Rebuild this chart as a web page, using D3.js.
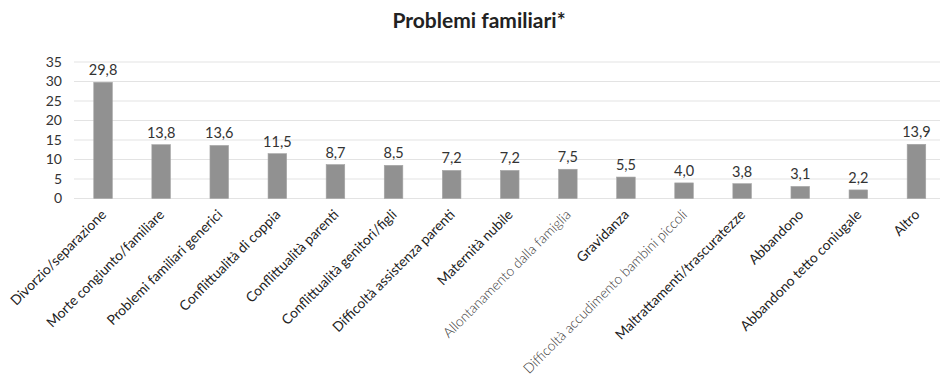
<!DOCTYPE html>
<html><head><meta charset="utf-8">
<script src="https://cdn.jsdelivr.net/npm/d3@7"></script>
<style>
body{margin:0;background:#fff;}
svg{display:block;font-family:Lato,"Open Sans",sans-serif;}
</style></head>
<body><svg id="c" width="940" height="379"></svg>
<script>
const categories = ["Divorzio/separazione","Morte congiunto/familiare","Problemi familiari generici","Conflittualità di coppia","Conflittualità parenti","Conflittualità genitori/figli","Difficoltà assistenza parenti","Maternità nubile","Allontanamento dalla famiglia","Gravidanza","Difficoltà accudimento bambini piccoli","Maltrattamenti/trascuratezze","Abbandono","Abbandono tetto coniugale","Altro"];
const values = [29.8,13.8,13.6,11.5,8.7,8.5,7.2,7.2,7.5,5.5,4.0,3.8,3.1,2.2,13.9];
const yTicks = [0,5,10,15,20,25,30,35];
const lightLabels = ["Allontanamento dalla famiglia","Difficoltà accudimento bambini piccoli"];
const title = "Problemi familiari*";

const svg = d3.select("#c");
const x = d3.scaleBand().domain(categories).range([74, 945.5]).paddingInner(0.68).paddingOuter(0.34);
const y = d3.scaleLinear().domain([0,35]).range([198.5, 62]);
const fmt = v => v.toFixed(1).replace(".", ",");

svg.append("text").attr("x", 479).attr("y", 28).attr("text-anchor","middle")
  .attr("font-size", 21).attr("font-weight", "bold").attr("fill", "#222").text(title);

svg.append("g").selectAll("line").data(yTicks).join("line")
  .attr("x1", 74).attr("x2", 940).attr("y1", d=>y(d)).attr("y2", d=>y(d))
  .attr("stroke", "#e3e3e3").attr("stroke-width", 1.2);

const yAxis = d3.axisLeft(y).tickValues(yTicks).tickSize(0).tickPadding(0);
const gy = svg.append("g").attr("transform","translate(62,0)").call(yAxis);
gy.select(".domain").remove();
gy.selectAll("text").attr("font-size", 14).attr("fill", "#333").attr("font-family","Lato,'Open Sans',sans-serif");

svg.append("g").selectAll("rect").data(values).join("rect")
  .attr("x", (d,i)=>x(categories[i])).attr("width", x.bandwidth())
  .attr("y", d=>y(d)).attr("height", d=>y(0)-y(d))
  .attr("fill", "#919191").attr("stroke","#a5a5a5").attr("stroke-width",0.6);

svg.append("g").selectAll("text").data(values).join("text")
  .attr("x", (d,i)=>x(categories[i]) + x.bandwidth()/2).attr("y", d=>y(d)-7)
  .attr("text-anchor","middle").attr("font-size", 14.5).attr("fill","#333").text(fmt);

const xAxis = d3.axisBottom(x).tickSize(0).tickPadding(0);
const gx = svg.append("g").attr("transform", `translate(0,${y(0)})`).call(xAxis);
gx.select(".domain").remove();
gx.selectAll("text")
  .attr("font-size", 13.8).attr("font-family","Lato,'Open Sans',sans-serif")
  .attr("font-weight", d => lightLabels.includes(d) ? 300 : 400)
  .attr("fill", d => lightLabels.includes(d) ? "#3a3a3a" : "#222")
  .attr("text-anchor","end").attr("dy", 0).attr("y", 0)
  .attr("transform", "translate(4,17) rotate(-45)");
</script></body></html>
